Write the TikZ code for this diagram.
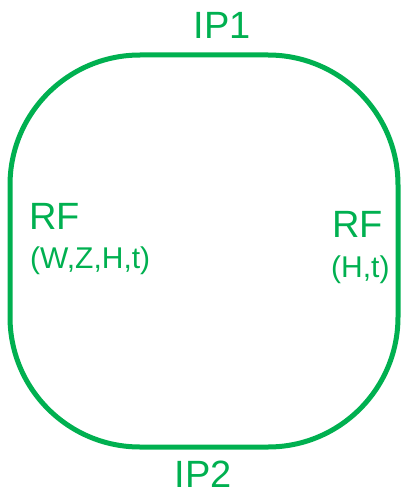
\documentclass[tikz,border=0pt]{standalone}
\usepackage{fontspec}
\setmainfont{Liberation Sans}
\definecolor{ringgreen}{HTML}{00B050}
\begin{document}
\begin{tikzpicture}[x=1pt,y=-1pt,
  ring/.style={draw=ringgreen,line width=5pt,rounded corners=130pt},
  big/.style={text=ringgreen,inner sep=0pt,font=\fontsize{38}{40}\selectfont},
  small/.style={text=ringgreen,inner sep=0pt,font=\fontsize{30}{32}\selectfont}]
\useasboundingbox (0,0) rectangle (404,495);
\draw[ring] (10,55) rectangle (398,447);
\node[big,anchor=base] (ip1) at (222,39) {IP1};
\node[big,anchor=base] (ip2) at (203,487) {IP2};
\node[big,anchor=base west] (rfl) at (29,229) {RF};
\node[small,anchor=base west] (rflsub) at (30,268) {(W,Z,H,t)};
\node[big,anchor=base west] (rfr) at (332,237) {RF};
\node[small,anchor=base west] (rfrsub) at (331,277) {(H,t)};
\end{tikzpicture}
\end{document}
